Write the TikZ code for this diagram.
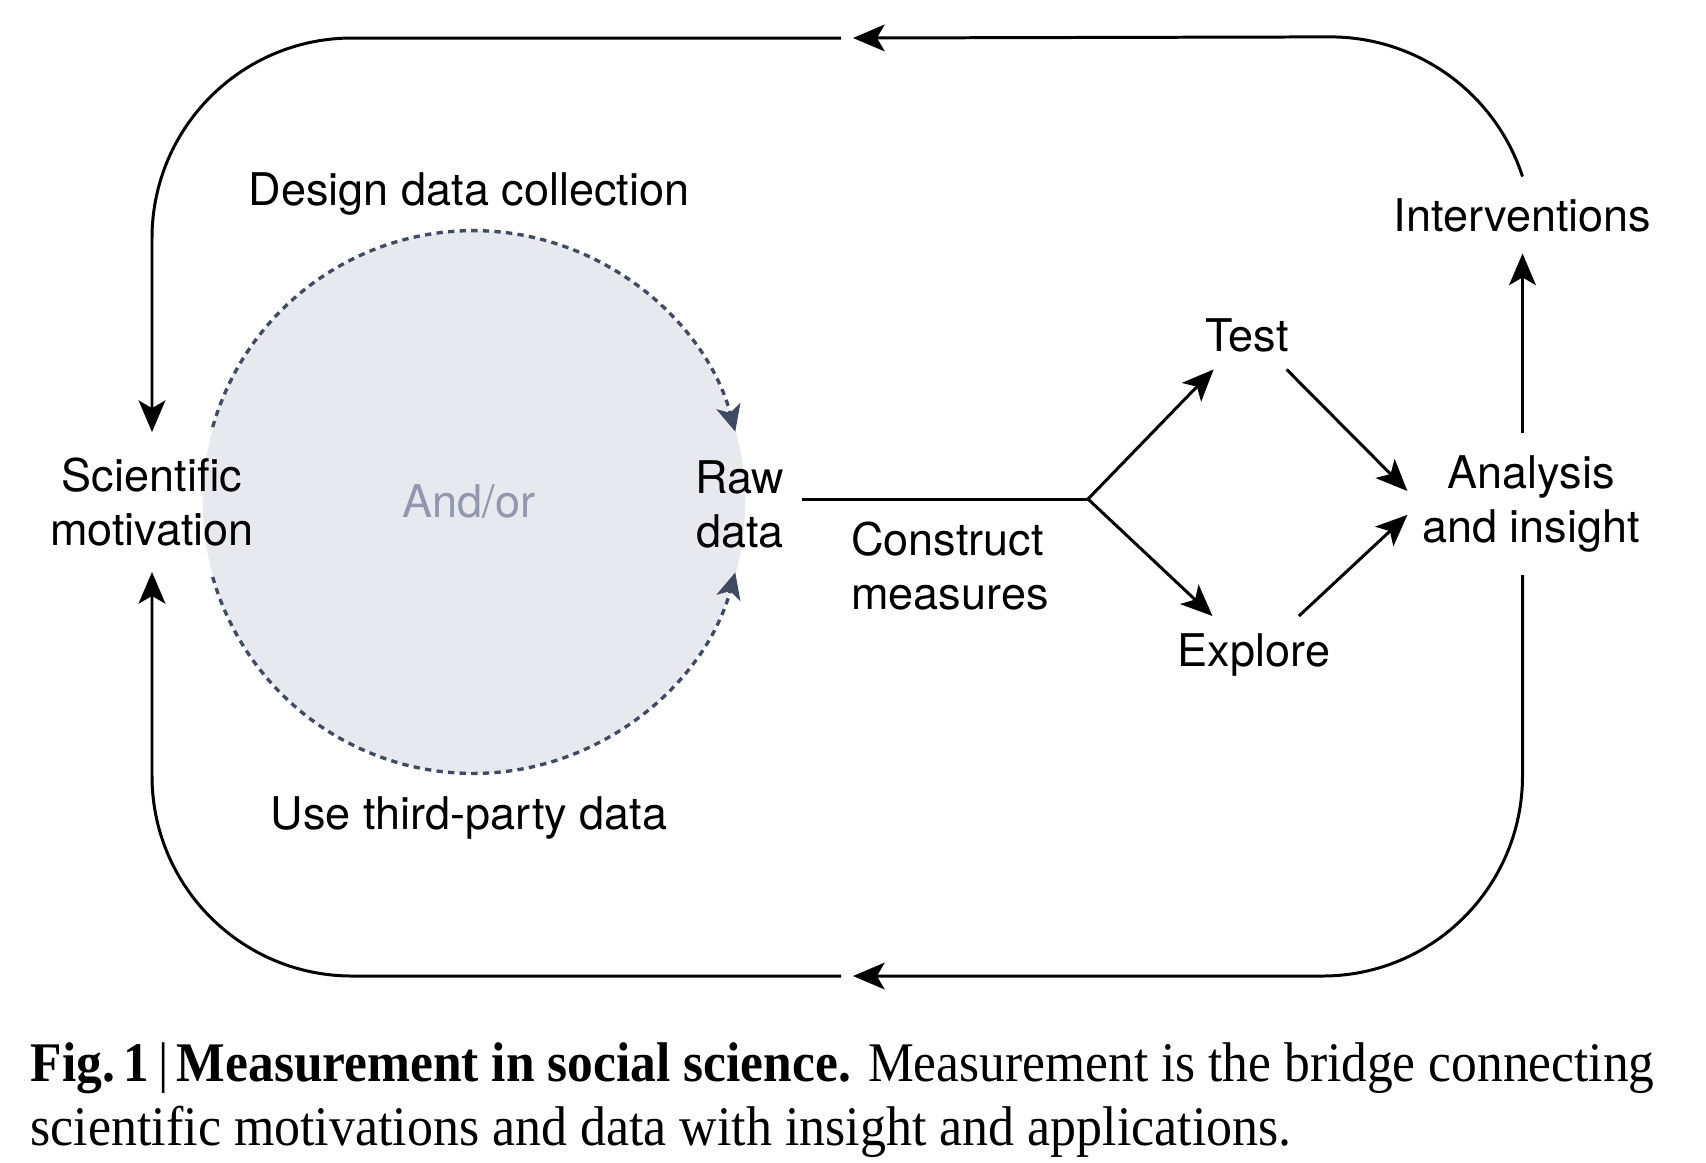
\documentclass[tikz,border=0pt]{standalone}
\usepackage{fontspec}
\setmainfont{TeX Gyre Heros}
\newfontfamily\capfont{Liberation Serif}
\usepackage{graphicx}
\usetikzlibrary{arrows.meta,calc}
\definecolor{slateline}{HTML}{3F4A64}
\definecolor{circfill}{HTML}{E8E9EF}
\definecolor{andorcol}{HTML}{9198AE}
\begin{document}
\begin{tikzpicture}[x=0.01cm, y=0.01cm,
  lbl/.style={font=\fontsize{12.8pt}{15.4pt}\selectfont, inner sep=0pt, align=center},
  arr/.style={line width=0.85pt, -{Stealth[length=9pt,width=7.6pt,inset=2.2pt]}},
  thinline/.style={line width=0.85pt},
  darr/.style={draw=slateline, line width=0.95pt, dash pattern=on 1.8pt off 1.5pt, -{Stealth[length=7.5pt,width=7pt,inset=2pt]}}]
\useasboundingbox (0,0) rectangle (1706,-1162);
\fill[white] (0,0) rectangle (1706,-1162);

\node[circle, fill=circfill, inner sep=0pt, minimum size=5.42cm] (circ) at (474,-502) {};
\node[lbl, inner ysep=0.25cm] (sm) at (152,-502) {Scientific\\motivation};
\node[lbl, text=andorcol] (andor) at (469,-502) {And/or};
\node[lbl, anchor=base] (design) at (469,-205) {Design data collection};
\node[lbl, anchor=base] (third) at (469,-829) {Use third-party data};
\node[lbl, inner xsep=0.17cm] (raw) at (740,-504) {Raw\\data};
\node[lbl, align=left] (construct) at (950,-566) {Construct\\measures};
\node[lbl, inner ysep=0.17cm] (test) at (1247,-335) {Test};
\node[lbl, inner ysep=0.17cm] (explore) at (1254,-655) {Explore};
\node[lbl, inner xsep=0.14cm, inner ysep=0.22cm] (ana) at (1531,-504) {Analysis\\and insight};
\node[lbl, inner ysep=0.21cm] (interv) at (1522.5,-215) {Interventions};
\coordinate (branch) at (1088,-499);
\coordinate (toptip) at (853,-38);
\coordinate (topgap) at (841,-38);
\coordinate (bottip) at (853,-976);
\coordinate (botgap) at (841,-976);

\draw[darr] (circ.164) arc[start angle=164, end angle=15, radius=2.71cm];
\draw[darr] (circ.196) arc[start angle=196, end angle=345, radius=2.71cm];

\draw[thinline] (raw.east |- branch) -- (branch);
\draw[arr] (branch) -- (test);
\draw[arr] (branch) -- (explore);
\draw[arr] (test.-41) -- (ana.174);
\draw[arr] (explore.41) -- (ana.185);
\draw[arr] (ana.north -| interv.south) -- (interv.south);
\draw[arr] (interv.north) arc[start angle=18, end angle=90, radius=2.02cm] -- (toptip);
\draw[arr, rounded corners=2cm] (topgap) -| (sm.north);
\draw[arr, rounded corners=2cm] (ana.south -| interv.north) |- (bottip);
\draw[arr, rounded corners=2cm] (botgap) -| (sm.south);

\node[anchor=base west, inner sep=0pt] (cap1) at (30,-1081) {\resizebox{16.23cm}{\height}{\capfont\fontsize{15.9pt}{19pt}\selectfont\textbf{Fig.\,1}\,|\,\textbf{Measurement in social science.} Measurement is the bridge connecting}};
\node[anchor=base west, inner sep=0pt] (cap2) at (30,-1145) {\resizebox{12.60cm}{\height}{\capfont\fontsize{15.9pt}{19pt}\selectfont scientific motivations and data with insight and applications.}};
\end{tikzpicture}
\end{document}
